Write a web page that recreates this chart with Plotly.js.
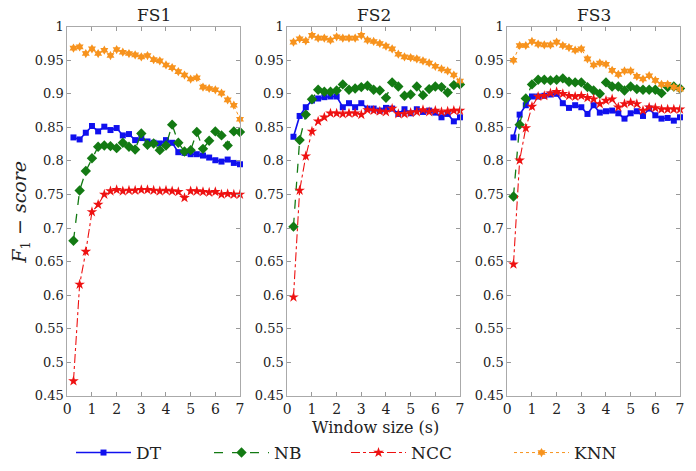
<!DOCTYPE html>
<html><head><meta charset="utf-8">
<script src="https://cdn.plot.ly/plotly-3.0.1.min.js"></script>
<style>body{margin:0;background:#fff}</style>
</head><body><div id="chart" style="width:696px;height:471px"></div>
<script>
const windowSizes = [0.25,0.5,0.75,1,1.25,1.5,1.75,2,2.25,2.5,2.75,3,3.25,3.5,3.75,4,4.25,4.5,4.75,5,5.25,5.5,5.75,6,6.25,6.5,6.75,7];
const panelTitles = ['FS1','FS2','FS3'];
const classifiers = ['DT','NB','NCC','KNN'];
const yTickVals = [0.45,0.5,0.55,0.6,0.65,0.7,0.75,0.8,0.85,0.9,0.95,1];
const yTickText = ['0.45','0.5','0.55','0.6','0.65','0.7','0.75','0.8','0.85','0.9','0.95','1'];
const xTickVals = [0,1,2,3,4,5,6,7];

const fs1DT  = [0.835,0.832,0.842,0.852,0.844,0.851,0.846,0.849,0.838,0.840,0.831,0.834,0.829,0.827,0.826,0.831,0.827,0.813,0.812,0.810,0.810,0.808,0.805,0.801,0.799,0.802,0.797,0.795];
const fs1NB  = [0.681,0.756,0.785,0.804,0.821,0.823,0.822,0.819,0.827,0.821,0.817,0.841,0.824,0.826,0.816,0.823,0.854,0.827,0.814,0.816,0.843,0.818,0.830,0.844,0.838,0.823,0.844,0.843];
const fs1NCC = [0.472,0.616,0.665,0.724,0.735,0.750,0.755,0.757,0.755,0.756,0.756,0.757,0.757,0.756,0.755,0.756,0.755,0.754,0.745,0.755,0.755,0.754,0.753,0.754,0.750,0.751,0.750,0.750];
const fs1KNN = [0.968,0.970,0.960,0.967,0.960,0.965,0.957,0.966,0.962,0.960,0.958,0.955,0.957,0.951,0.949,0.943,0.939,0.933,0.928,0.922,0.924,0.910,0.908,0.906,0.901,0.891,0.883,0.862];

const fs2DT  = [0.836,0.867,0.880,0.890,0.893,0.895,0.896,0.896,0.880,0.886,0.880,0.886,0.878,0.878,0.875,0.879,0.878,0.870,0.877,0.871,0.877,0.873,0.875,0.872,0.865,0.870,0.859,0.865];
const fs2NB  = [0.702,0.831,0.869,0.892,0.906,0.903,0.903,0.905,0.914,0.906,0.908,0.910,0.912,0.906,0.905,0.894,0.917,0.911,0.897,0.899,0.911,0.898,0.907,0.911,0.910,0.902,0.913,0.914];
const fs2NCC = [0.597,0.756,0.807,0.844,0.859,0.865,0.871,0.871,0.870,0.871,0.871,0.869,0.876,0.875,0.874,0.873,0.878,0.870,0.870,0.872,0.873,0.876,0.873,0.875,0.873,0.874,0.875,0.875];
const fs2KNN = [0.977,0.982,0.979,0.987,0.983,0.983,0.980,0.985,0.983,0.983,0.983,0.987,0.980,0.978,0.975,0.971,0.967,0.959,0.955,0.954,0.952,0.949,0.946,0.941,0.937,0.934,0.928,0.919];

const fs3DT  = [0.835,0.869,0.883,0.896,0.896,0.897,0.899,0.900,0.886,0.879,0.883,0.880,0.870,0.883,0.872,0.874,0.875,0.871,0.863,0.871,0.874,0.867,0.878,0.868,0.863,0.864,0.860,0.865];
const fs3NB  = [0.747,0.854,0.893,0.914,0.921,0.921,0.920,0.921,0.923,0.918,0.917,0.917,0.910,0.905,0.900,0.917,0.911,0.911,0.905,0.911,0.907,0.906,0.906,0.906,0.901,0.910,0.911,0.908];
const fs3NCC = [0.646,0.801,0.849,0.881,0.896,0.897,0.901,0.903,0.900,0.897,0.896,0.897,0.894,0.892,0.885,0.890,0.892,0.880,0.885,0.887,0.885,0.875,0.880,0.879,0.877,0.877,0.877,0.877];
const fs3KNN = [0.950,0.972,0.972,0.978,0.974,0.973,0.973,0.977,0.972,0.969,0.965,0.967,0.952,0.943,0.946,0.944,0.935,0.929,0.934,0.934,0.926,0.922,0.927,0.920,0.914,0.914,0.910,0.907];

const panelData = [
  [fs1DT, fs1NB, fs1NCC, fs1KNN],
  [fs2DT, fs2NB, fs2NCC, fs2KNN],
  [fs3DT, fs3NB, fs3NCC, fs3KNN]
];

const styles = [
  {color:'#1010ee', dash:'solid',   width:1.6, symbol:'square',   size:6},
  {color:'#137a13', dash:'dash',    width:1.3, symbol:'diamond',  size:8},
  {color:'#ee1111', dash:'dashdot', width:1.1, symbol:'star',     size:8},
  {color:'#f7931e', dash:'dot',     width:1.0, symbol:'hexagram', size:7}
];

const W = 696, H = 471;
const panelPx = [[67.3,240],[287.3,460],[507.3,680]];
const yDom = [(H-400)/H, (H-27)/H];
const legendPx = [71, 209, 346, 509];
const legendIds = ['legend','legend2','legend3','legend4'];
const serif = "'DejaVu Serif', 'Liberation Serif', serif";

const traces = [];
const layout = {
  width: W, height: H,
  margin: {l:0,r:0,t:0,b:0},
  paper_bgcolor:'#fff', plot_bgcolor:'#fff',
  font: {family: serif, color:'#222', size:12},
  showlegend: true,
  annotations: []
};
for (let c = 0; c < 4; c++) {
  layout[legendIds[c]] = {
    orientation:'h', x: legendPx[c]/W, xanchor:'left', y: (H-458)/H, yanchor:'middle',
    itemwidth: 55, font:{family:serif, size:17, color:'#222'}, bgcolor:'rgba(0,0,0,0)'
  };
}

for (let p = 0; p < 3; p++) {
  const sfx = p === 0 ? '' : String(p+1);
  const xa = 'xaxis' + sfx, ya = 'yaxis' + sfx;
  layout[xa] = {
    domain: [panelPx[p][0]/W, panelPx[p][1]/W], range:[0,7], anchor: 'y'+sfx,
    tickvals: xTickVals, ticks:'inside', ticklen:4, tickcolor:'#999', mirror:'ticks',
    showline:true, linecolor:'#aaa', linewidth:1, showgrid:false, zeroline:false,
    tickfont:{family:serif, size:14, color:'#222'}, fixedrange:true
  };
  layout[ya] = {
    domain: yDom, range:[0.45,1], anchor: 'x'+sfx,
    tickvals: yTickVals, ticktext: yTickText, ticks:'inside', ticklen:4, tickcolor:'#999', mirror:'ticks',
    showline:true, linecolor:'#aaa', linewidth:1, showgrid:false, zeroline:false,
    tickfont:{family:serif, size:13, color:'#222'}, fixedrange:true
  };
  layout.annotations.push({
    text: panelTitles[p], xref:'paper', yref:'paper',
    x: (panelPx[p][0]+panelPx[p][1])/2/W, y: (H-15)/H, xanchor:'center', yanchor:'middle',
    showarrow:false, font:{family:serif, size:17, color:'#222'}
  });
  for (let c = 0; c < 4; c++) {
    const s = styles[c];
    traces.push({
      type:'scatter', mode:'lines+markers', x: windowSizes, y: panelData[p][c],
      xaxis:'x'+sfx, yaxis:'y'+sfx, name: classifiers[c], legendgroup: classifiers[c],
      legend: legendIds[c], showlegend: p === 0,
      line:{color:s.color, dash:s.dash, width:s.width},
      marker:{color:s.color, symbol:s.symbol, size:s.size, line:{width:0}},
      cliponaxis:false
    });
  }
}

layout.annotations.push({
  text:'Window size (s)', xref:'paper', yref:'paper', x: 375/W, y:(H-432)/H,
  xanchor:'center', yanchor:'middle', showarrow:false, font:{family:serif, size:16, color:'#222'}
});
layout.annotations.push({
  text:'<i>F</i><sub>1</sub> − <i>score</i>', xref:'paper', yref:'paper', x: 21/W, y:(H-215)/H,
  xanchor:'center', yanchor:'middle', textangle:-90, showarrow:false,
  font:{family:serif, size:19, color:'#222'}
});

Plotly.newPlot('chart', traces, layout, {displayModeBar:false, staticPlot:true});
</script></body></html>
